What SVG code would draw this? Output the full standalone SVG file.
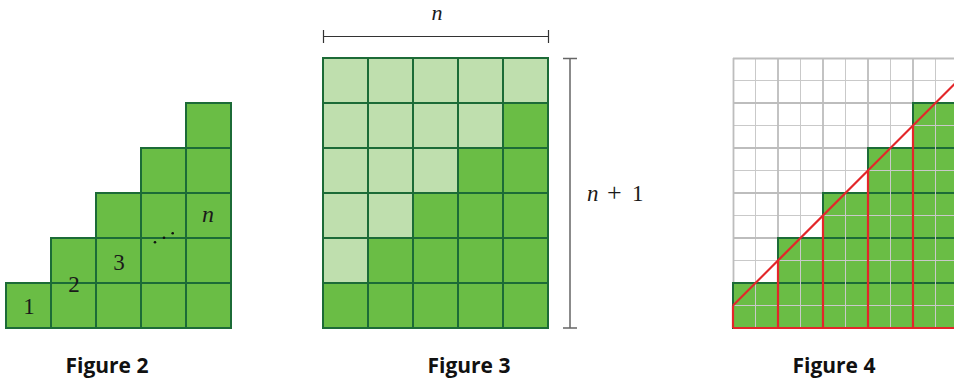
<svg xmlns="http://www.w3.org/2000/svg" width="954" height="383" viewBox="0 0 954 383">
<defs>
<style>
.cell{fill:#6abd45;stroke:#1c6b37;stroke-width:2}
.light{fill:#bfdfae;stroke:#1c6b37;stroke-width:2}
.math{font-family:"Liberation Serif","DejaVu Serif",serif;font-style:italic;font-size:24px;fill:#1a1a1a}
.num{font-family:"Liberation Serif","DejaVu Serif",serif;font-size:23px;fill:#1a1a1a}
.cap{font-family:"Open Sans","Liberation Sans",sans-serif;font-weight:700;font-size:21px;fill:#111;text-anchor:middle}
.major{stroke:#bdbdbd;stroke-width:1.8;fill:none}
.minor{stroke:#c9c9c9;stroke-width:1;fill:none}
.red{stroke:#e3262a;stroke-width:2.2;fill:none}
</style>
</defs>
<rect width="954" height="383" fill="#fff"/>

<!-- Figure 2 -->
<g id="figure2">
<rect class="cell" x="6" y="283" width="45" height="45"/>
<rect class="cell" x="51" y="283" width="45" height="45"/>
<rect class="cell" x="96" y="283" width="45" height="45"/>
<rect class="cell" x="141" y="283" width="45" height="45"/>
<rect class="cell" x="186" y="283" width="45" height="45"/>
<rect class="cell" x="51" y="238" width="45" height="45"/>
<rect class="cell" x="96" y="238" width="45" height="45"/>
<rect class="cell" x="141" y="238" width="45" height="45"/>
<rect class="cell" x="186" y="238" width="45" height="45"/>
<rect class="cell" x="96" y="193" width="45" height="45"/>
<rect class="cell" x="141" y="193" width="45" height="45"/>
<rect class="cell" x="186" y="193" width="45" height="45"/>
<rect class="cell" x="141" y="148" width="45" height="45"/>
<rect class="cell" x="186" y="148" width="45" height="45"/>
<rect class="cell" x="186" y="103" width="45" height="45"/>
<text class="num" x="29" y="314" text-anchor="middle">1</text>
<text class="num" x="74" y="292" text-anchor="middle">2</text>
<text class="num" x="119" y="270" text-anchor="middle">3</text>
<circle cx="155" cy="242.3" r="1.3" fill="#111"/>
<circle cx="164" cy="237.7" r="1.3" fill="#111"/>
<circle cx="172.7" cy="233.3" r="1.3" fill="#111"/>
<text class="math" x="208" y="222" text-anchor="middle">n</text>
<text class="cap" x="107" y="373">Figure 2</text>
</g>

<!-- Figure 3 -->
<g id="figure3">
<rect class="light" x="323" y="58" width="45" height="45"/>
<rect class="light" x="368" y="58" width="45" height="45"/>
<rect class="light" x="413" y="58" width="45" height="45"/>
<rect class="light" x="458" y="58" width="45" height="45"/>
<rect class="light" x="503" y="58" width="45" height="45"/>
<rect class="light" x="323" y="103" width="45" height="45"/>
<rect class="light" x="368" y="103" width="45" height="45"/>
<rect class="light" x="413" y="103" width="45" height="45"/>
<rect class="light" x="458" y="103" width="45" height="45"/>
<rect class="cell" x="503" y="103" width="45" height="45"/>
<rect class="light" x="323" y="148" width="45" height="45"/>
<rect class="light" x="368" y="148" width="45" height="45"/>
<rect class="light" x="413" y="148" width="45" height="45"/>
<rect class="cell" x="458" y="148" width="45" height="45"/>
<rect class="cell" x="503" y="148" width="45" height="45"/>
<rect class="light" x="323" y="193" width="45" height="45"/>
<rect class="light" x="368" y="193" width="45" height="45"/>
<rect class="cell" x="413" y="193" width="45" height="45"/>
<rect class="cell" x="458" y="193" width="45" height="45"/>
<rect class="cell" x="503" y="193" width="45" height="45"/>
<rect class="light" x="323" y="238" width="45" height="45"/>
<rect class="cell" x="368" y="238" width="45" height="45"/>
<rect class="cell" x="413" y="238" width="45" height="45"/>
<rect class="cell" x="458" y="238" width="45" height="45"/>
<rect class="cell" x="503" y="238" width="45" height="45"/>
<rect class="cell" x="323" y="283" width="45" height="45"/>
<rect class="cell" x="368" y="283" width="45" height="45"/>
<rect class="cell" x="413" y="283" width="45" height="45"/>
<rect class="cell" x="458" y="283" width="45" height="45"/>
<rect class="cell" x="503" y="283" width="45" height="45"/>
<g stroke="#333" stroke-width="1.2" fill="none">
<path d="M323.5,36.5 H548.5 M323.5,30 V43 M548.5,30 V43"/>
</g>
<g stroke="#666" stroke-width="1.5" fill="none">
<path d="M570,58.5 V328 M563,58.5 H577 M563,328 H577"/>
</g>
<text x="437" y="20" text-anchor="middle" font-family="Liberation Serif, DejaVu Serif, serif" font-style="italic" font-size="22" fill="#1a1a1a">n</text>
<text y="201" font-family="Liberation Serif, DejaVu Serif, serif" font-size="23" fill="#1a1a1a"><tspan x="587" font-style="italic">n</tspan><tspan x="607" font-size="26">+</tspan><tspan x="632">1</tspan></text>
<text class="cap" x="469" y="373">Figure 3</text>
</g>

<!-- Figure 4 -->
<g id="figure4">
<g class="minor">
<path d="M755.5,58 V328 M800.5,58 V328 M845.5,58 V328 M890.5,58 V328 M935.5,58 V328 M733,80.5 H954 M733,125.5 H954 M733,170.5 H954 M733,215.5 H954 M733,260.5 H954 M733,305.5 H954"/>
</g>
<g class="major">
<path d="M733.5,58 V328 M778,58 V328 M823,58 V328 M868,58 V328 M913,58 V328 M733,58.5 H954 M733,103 H954 M733,148 H954 M733,193 H954 M733,238 H954 M733,283 H954"/>
</g>
<g id="stairs">
<rect class="cell" x="733" y="283" width="45" height="45"/>
<rect class="cell" x="778" y="283" width="45" height="45"/>
<rect class="cell" x="823" y="283" width="45" height="45"/>
<rect class="cell" x="868" y="283" width="45" height="45"/>
<rect class="cell" x="913" y="283" width="45" height="45"/>
<rect class="cell" x="778" y="238" width="45" height="45"/>
<rect class="cell" x="823" y="238" width="45" height="45"/>
<rect class="cell" x="868" y="238" width="45" height="45"/>
<rect class="cell" x="913" y="238" width="45" height="45"/>
<rect class="cell" x="823" y="193" width="45" height="45"/>
<rect class="cell" x="868" y="193" width="45" height="45"/>
<rect class="cell" x="913" y="193" width="45" height="45"/>
<rect class="cell" x="868" y="148" width="45" height="45"/>
<rect class="cell" x="913" y="148" width="45" height="45"/>
<rect class="cell" x="913" y="103" width="45" height="45"/>
</g>
<g class="minor">
<path d="M755.5,284 V327 M800.5,239 V327 M845.5,194 V327 M890.5,149 V327 M935.5,104 V327 M734,305.5 H954 M779,260.5 H954 M824,215.5 H954 M869,170.5 H954 M914,125.5 H954"/>
</g>
<g id="connectors" class="red">
<path d="M733,305.5 L960,78.5"/>
<path d="M733,305.5 V328 M778,260.5 V328 M823,215.5 V328 M868,170.5 V328 M913,125.5 V328 M733,328 H954"/>
</g>
<text class="cap" x="834" y="373">Figure 4</text>
</g>
</svg>
